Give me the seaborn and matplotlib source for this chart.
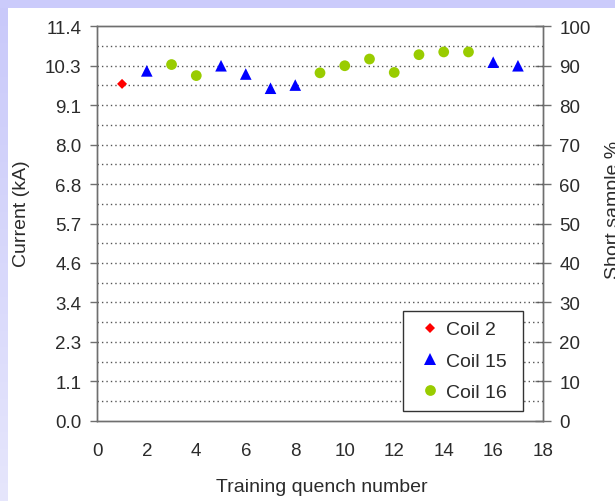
import numpy as np
import pandas as pd
import matplotlib
matplotlib.use("Agg")
import matplotlib.pyplot as plt
from matplotlib.patches import Rectangle
from matplotlib.colors import LinearSegmentedColormap
import seaborn as sns

# Training quench history, expressed as percent of short-sample limit
quench = list(range(1, 18))
coil = ["Coil 2", "Coil 15", "Coil 16", "Coil 16", "Coil 15", "Coil 15",
        "Coil 15", "Coil 15", "Coil 16", "Coil 16", "Coil 16", "Coil 16",
        "Coil 16", "Coil 16", "Coil 16", "Coil 15", "Coil 15"]
short_sample_pct = [85.4, 88.7, 90.3, 87.5, 90.0, 87.9, 84.3, 85.1, 88.2,
                    90.0, 91.7, 88.3, 92.8, 93.5, 93.5, 90.9, 90.0]

coil_order = ["Coil 2", "Coil 15", "Coil 16"]
coil_colors = {"Coil 2": "#FF0000", "Coil 15": "#0000FF", "Coil 16": "#99CC00"}
coil_markers = {"Coil 2": "D", "Coil 15": "^", "Coil 16": "o"}
coil_sizes = {"Coil 2": 26, "Coil 15": 70, "Coil 16": 60}

# Short-sample current in kA (100 %)
i_short_sample = 11.4
pct_ticks = list(range(0, 101, 10))
current_ticks = [i_short_sample * p / 100 for p in pct_ticks]
x_ticks = list(range(0, 19, 2))

df = pd.DataFrame({"quench": quench, "coil": coil, "pct": short_sample_pct})

sns.set_style("white")
plt.rcParams["font.family"] = ["Liberation Sans", "DejaVu Sans"]
text_col = "#2b2b2b"
spine_col = "#6f6f6f"

fig = plt.figure(figsize=(6.15, 5.02), dpi=100, facecolor="white")

# lavender frame along the top and left edges
fig.patches.append(Rectangle((0, 1 - 9 / 502), 1, 9 / 502, transform=fig.transFigure,
                             facecolor="#CBCBFB", edgecolor="none", zorder=0))
band = fig.add_axes([0, 0, 7 / 615, 1 - 9 / 502])
band.imshow(np.linspace(0, 1, 256).reshape(-1, 1), aspect="auto",
            cmap=LinearSegmentedColormap.from_list("lav", ["#C9C9FA", "#E6E6FC"]))
band.axis("off")

ax = fig.add_axes([97.3 / 615, 1 - 421.7 / 502, 445.4 / 615, 394.4 / 502])
ax2 = ax.twinx()

sns.scatterplot(data=df, x="quench", y="pct", hue="coil", style="coil", size="coil",
                hue_order=coil_order, style_order=coil_order, size_order=coil_order,
                palette=coil_colors, markers=coil_markers, sizes=coil_sizes,
                linewidth=0, ax=ax2, zorder=5, clip_on=False)

ax.set_xlim(0, 18)
ax.set_ylim(0, i_short_sample)
ax2.set_ylim(0, 100)
ax.set_xticks(x_ticks)
ax.set_yticks(current_ticks)
ax.set_yticklabels([f"{v:.1f}" for v in current_ticks])
ax2.set_yticks(pct_ticks)

# dotted horizontal grid every 5 %
ax2.yaxis.remove_overlapping_locs = False
ax2.set_yticks(np.arange(5, 100, 5), minor=True)
ax2.yaxis.grid(True, which="minor", color="#555555", linestyle=(0, (1, 2.2)), linewidth=1.0)
ax2.tick_params(axis="y", which="minor", length=0)

for a in (ax, ax2):
    for s in a.spines.values():
        s.set_color(spine_col)
        s.set_linewidth(1.0)

ax.tick_params(axis="x", direction="inout", length=8, width=1, color=spine_col,
               pad=11, labelsize=13.5, labelcolor=text_col)
ax.tick_params(axis="y", direction="out", length=5, width=1, color=spine_col,
               pad=6.5, labelsize=13.5, labelcolor=text_col)
ax2.tick_params(axis="y", which="major", direction="inout", length=11, width=1,
                color=spine_col, pad=6.5, labelsize=13.5, labelcolor=text_col)

ax.set_xlabel("")
ax.set_ylabel("")
ax2.set_xlabel("")
ax2.set_ylabel("")

fig.text(21.5 / 615, 1 - 214 / 502, "Current (kA)", rotation=90, ha="center", va="center",
         fontsize=14, color=text_col)
fig.text(613 / 615, 1 - 210 / 502, "Short sample %", rotation=90, ha="center", va="center",
         fontsize=14, color=text_col)
fig.text(322 / 615, 1 - 488 / 502, "Training quench number", ha="center", va="center",
         fontsize=14, color=text_col)

handles, labels = ax2.get_legend_handles_labels()
ax2.legend(handles, labels, loc="upper left", mode="expand",
           bbox_to_anchor=((403 - 97.3) / 445.4, (421.7 - 312) / 394.4, 120 / 445.4, 0),
           frameon=True, fancybox=False, edgecolor="#333333", framealpha=1,
           fontsize=14, labelspacing=0.7, borderpad=0.5, handlelength=1.8,
           handletextpad=-0.1, borderaxespad=0, labelcolor=text_col)
ax2.get_legend().get_frame().set_linewidth(1.0)

fig.savefig("out.png", dpi=100, facecolor="white")
